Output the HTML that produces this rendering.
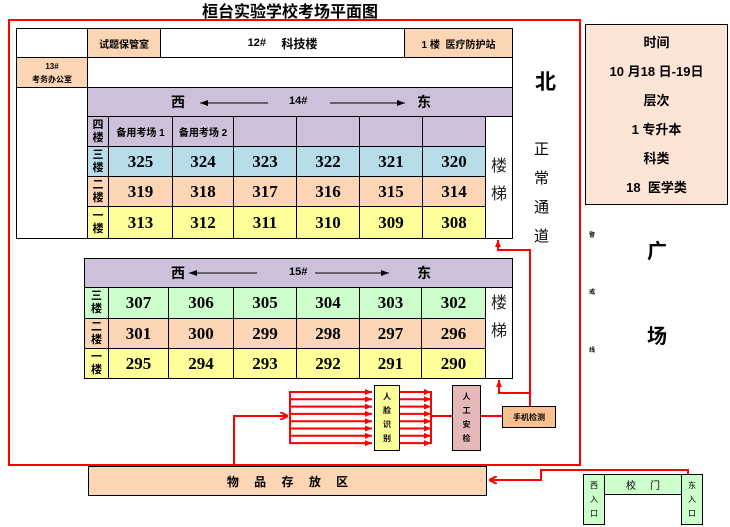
<!DOCTYPE html>
<html><head><meta charset="utf-8"><style>
body{margin:0;width:730px;height:527px;background:#fff;position:relative;overflow:hidden;font-family:"Liberation Sans","Noto Sans CJK SC",sans-serif;}
.a{position:absolute;box-sizing:border-box;}
.c{display:flex;align-items:center;justify-content:center;text-align:center;}
.b{border:1px solid #000;}
.num{font-family:"Liberation Serif","Noto Serif CJK SC",serif;font-weight:bold;font-size:17px;}
.fl{font-size:11px;font-weight:bold;line-height:13px;}
.sm{font-size:10px;font-weight:bold;}
</style></head><body>
<div class="a c" style="left:180px;top:0;width:220px;height:20px;font-size:16px;font-weight:bold;">桓台实验学校考场平面图</div>
<div class="a" style="left:8px;top:19px;width:573px;height:447px;border:2px solid #f00;"></div>

<!-- top table -->
<div class="a b" style="left:16px;top:28px;width:497px;height:211px;"></div>
<div class="a b c sm" style="left:87px;top:28px;width:74px;height:30px;background:#fcd5b4;">试题保管室</div>
<div class="a b c" style="left:160px;top:28px;width:245px;height:30px;font-size:11px;font-weight:bold;">12#&nbsp;&nbsp;&nbsp;&nbsp;&nbsp;<span style="font-size:12px">科技楼</span></div>
<div class="a b c sm" style="left:404px;top:28px;width:109px;height:30px;background:#fcd5b4;">1 楼&nbsp;&nbsp;医疗防护站</div>
<div class="a b c" style="left:16px;top:57px;width:72px;height:31px;background:#fcd5b4;font-size:8px;font-weight:bold;line-height:13px;">13#<br>考务办公室</div>
<div class="a b" style="left:87px;top:57px;width:426px;height:31px;"></div>
<div class="a b" style="left:16px;top:87px;width:72px;height:152px;"></div>
<div class="a b" style="left:87px;top:87px;width:426px;height:30px;background:#ccc0da;"></div>
<div class="a" style="left:171px;top:92px;font-size:14px;font-weight:bold;">西</div>
<div class="a" style="left:417px;top:92px;font-size:14px;font-weight:bold;">东</div>
<div class="a" style="left:289px;top:95px;font-size:11px;font-weight:bold;">14#</div>

<!-- 14# rows -->
<div class="a b c fl" style="left:87px;top:116px;width:22px;height:31px;background:#ccc0da;">四<br>楼</div>
<div class="a b c fl" style="left:87px;top:146px;width:22px;height:31px;background:#b7dde8;">三<br>楼</div>
<div class="a b c fl" style="left:87px;top:176px;width:22px;height:31px;background:#fcd5b4;">二<br>楼</div>
<div class="a b c fl" style="left:87px;top:206px;width:22px;height:33px;background:#ffff99;">一<br>楼</div>
<div class="a b c" style="left:485px;top:116px;width:28px;height:123px;flex-direction:column;font-size:16px;line-height:28px;color:#222;padding-top:6px;">楼<br>梯</div>

<!-- 15# -->
<div class="a b" style="left:84px;top:258px;width:429px;height:121px;"></div>
<div class="a b" style="left:84px;top:258px;width:429px;height:30px;background:#ccc0da;"></div>
<div class="a" style="left:171px;top:263px;font-size:14px;font-weight:bold;">西</div>
<div class="a" style="left:417px;top:263px;font-size:14px;font-weight:bold;">东</div>
<div class="a" style="left:289px;top:266px;font-size:11px;font-weight:bold;">15#</div>
<div class="a b c fl" style="left:84px;top:287px;width:25px;height:32px;background:#ccffcc;">三<br>楼</div>
<div class="a b c fl" style="left:84px;top:318px;width:25px;height:31px;background:#fcd5b4;">二<br>楼</div>
<div class="a b c fl" style="left:84px;top:348px;width:25px;height:31px;background:#ffff99;">一<br>楼</div>
<div class="a b c" style="left:485px;top:287px;width:28px;height:92px;font-size:16px;line-height:28px;color:#222;align-items:flex-start;padding-top:2px;">楼<br>梯</div>

<div id="cells"></div>

<!-- right side -->
<div class="a" style="left:535px;top:66px;font-size:21px;font-weight:bold;">北</div>
<div class="a" style="left:534px;top:135px;font-size:15px;line-height:29px;width:18px;">正<br>常<br>通<br>道</div>
<div class="a b c" style="left:585px;top:24px;width:143px;height:181px;background:#fce4d6;flex-direction:column;font-size:13px;font-weight:bold;line-height:29px;">时间<br>10 月18 日-19日<br>层次<br>1 专升本<br>科类<br>18&nbsp; 医学类</div>
<div class="a" style="left:647px;top:235px;font-size:20px;font-weight:bold;">广</div>
<div class="a" style="left:647px;top:320px;font-size:20px;font-weight:bold;">场</div>
<div class="a" style="left:589px;top:230px;font-size:6px;font-weight:bold;">警</div>
<div class="a" style="left:589px;top:287px;font-size:6px;font-weight:bold;">戒</div>
<div class="a" style="left:589px;top:345px;font-size:6px;font-weight:bold;">线</div>

<!-- bottom boxes -->
<div class="a b c" style="left:374px;top:385px;width:26px;height:66px;background:#ffff99;font-size:8px;font-weight:bold;line-height:14px;">人<br>脸<br>识<br>别</div>
<div class="a b c" style="left:452px;top:385px;width:29px;height:66px;background:#e6b9b8;font-size:8px;font-weight:bold;line-height:14px;">人<br>工<br>安<br>检</div>
<div class="a b c" style="left:502px;top:406px;width:54px;height:22px;background:#fac090;font-size:8px;font-weight:bold;">手机检测</div>
<div class="a b c" style="left:88px;top:466px;width:399px;height:30px;background:#fcd5b4;font-size:12px;font-weight:bold;word-spacing:12px;">物 品 存 放 区</div>
<div class="a b c" style="left:583px;top:474px;width:22px;height:51px;background:#ccffcc;font-size:8px;line-height:14px;">西<br>入<br>口</div>
<div class="a b c" style="left:604px;top:474px;width:78px;height:21px;background:#ccffcc;font-size:10px;">校&nbsp;&nbsp;&nbsp;&nbsp;&nbsp;门</div>
<div class="a b c" style="left:681px;top:474px;width:22px;height:51px;background:#ccffcc;font-size:8px;line-height:14px;">东<br>入<br>口</div>

<svg class="a" style="left:0;top:0" width="730" height="527" viewBox="0 0 730 527">
<defs>
<marker id="k" markerWidth="8" markerHeight="6" refX="8" refY="3" orient="auto" markerUnits="userSpaceOnUse"><path d="M0,0L8,3L0,6z" fill="#000"/></marker>
<marker id="r" markerWidth="8" markerHeight="8" refX="8" refY="4" orient="auto" markerUnits="userSpaceOnUse"><path d="M0,0L8,4L0,8" fill="none" stroke="#f00" stroke-width="2"/></marker>
<marker id="rs" markerWidth="7" markerHeight="6" refX="7" refY="3" orient="auto" markerUnits="userSpaceOnUse"><path d="M0,0L7,3L0,6z" fill="#f00"/></marker>
</defs>
<g stroke="#000" stroke-width="1">
<line x1="268" y1="103" x2="200" y2="103" marker-end="url(#k)"/>
<line x1="330" y1="103" x2="405" y2="103" marker-end="url(#k)"/>
<line x1="257" y1="273" x2="189" y2="273" marker-end="url(#k)"/>
<line x1="315" y1="273" x2="389" y2="273" marker-end="url(#k)"/>
</g>
<g stroke="#f00" stroke-width="2" fill="none">
<polyline points="234,466 234,416 288,416" marker-end="url(#r)"/>
<line x1="290" y1="391" x2="290" y2="444"/>
<line x1="431" y1="391" x2="431" y2="444"/>
<line x1="431" y1="416" x2="452" y2="416"/>
<line x1="481" y1="416" x2="502" y2="416"/>
<polyline points="530,406 530,250 498,250 498,240" marker-end="url(#rs)"/>
<polyline points="530,393 499,393 499,380" marker-end="url(#rs)"/>
<polyline points="688,474 688,470 541,470 541,480 489,480" marker-end="url(#r)"/>
</g>
<g id="arr" stroke="#f00" stroke-width="2"></g>
</svg>
<script>
var h='';
var r1=[[108,172],[172,233],[233,296],[296,359],[359,422],[422,485]];
var rows1=[[116,147,'#ccc0da',['备用考场 1','备用考场 2','','','','']],[146,177,'#b7dde8',['325','324','323','322','321','320']],[176,207,'#fcd5b4',['319','318','317','316','315','314']],[206,239,'#ffff99',['313','312','311','310','309','308']]];
rows1.forEach(function(r,i){r1.forEach(function(c,j){h+='<div class="a b c '+(i?'num':'sm')+'" style="left:'+c[0]+'px;top:'+r[0]+'px;width:'+(c[1]-c[0]+1)+'px;height:'+(r[1]-r[0])+'px;background:'+r[2]+'">'+r[3][j]+'</div>';});});
var r2=[[108,168],[168,233],[233,296],[296,359],[359,421],[421,485]];
var rows2=[[287,319,'#ccffcc',['307','306','305','304','303','302']],[318,349,'#fcd5b4',['301','300','299','298','297','296']],[348,379,'#ffff99',['295','294','293','292','291','290']]];
rows2.forEach(function(r){r2.forEach(function(c,j){h+='<div class="a b c num" style="left:'+c[0]+'px;top:'+r[0]+'px;width:'+(c[1]-c[0]+1)+'px;height:'+(r[1]-r[0])+'px;background:'+r[2]+'">'+r[3][j]+'</div>';});});
document.getElementById('cells').innerHTML=h;
var s='';
for(var i=0;i<8;i++){var y=392+i*7.3;s+='<line x1="290" y1="'+y+'" x2="372" y2="'+y+'" marker-end="url(#rs)"/><line x1="400" y1="'+y+'" x2="431" y2="'+y+'" marker-end="url(#rs)"/>';}
document.getElementById('arr').innerHTML=s;
</script>
</body></html>
